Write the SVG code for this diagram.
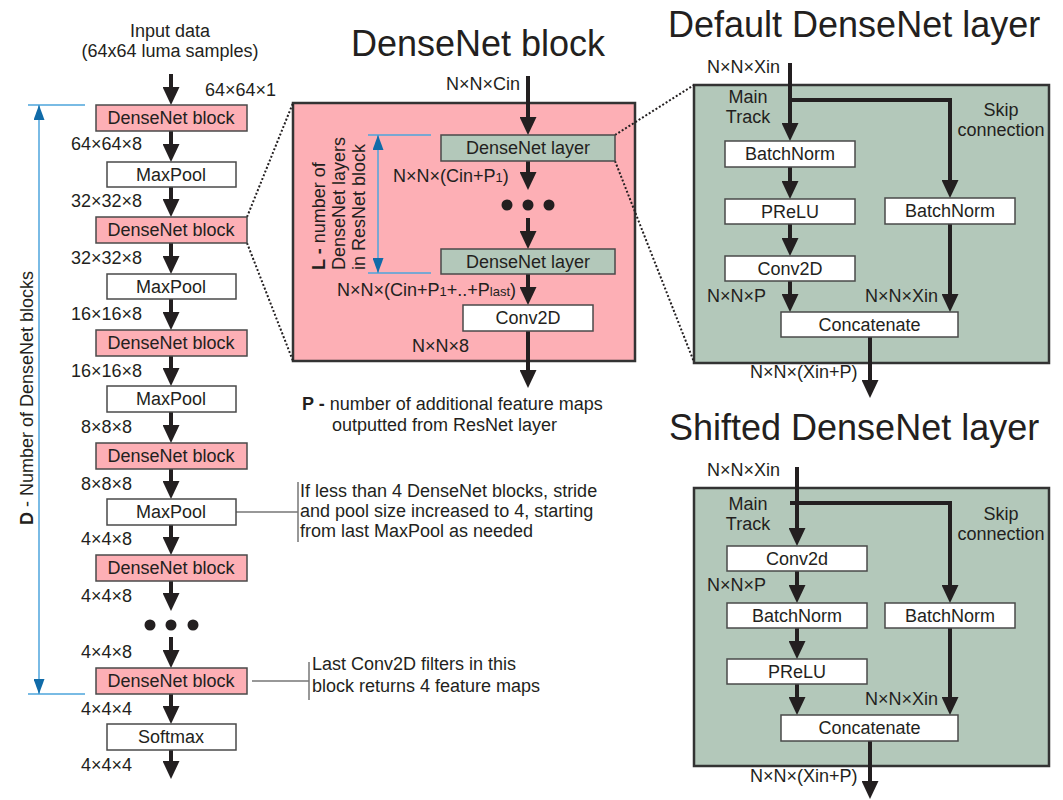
<svg xmlns="http://www.w3.org/2000/svg" width="1063" height="800" viewBox="0 0 1063 800">
<style>
text{font-family:"Liberation Sans",Arial,sans-serif;font-size:18px;fill:#231f20}
.title{font-size:36px}
.mid{text-anchor:middle}
.end{text-anchor:end}
.b{font-weight:bold}
.sub{font-size:13px}
.pink{fill:#fdafb5;stroke:#4a4a4a;stroke-width:1.5}
.green{fill:#b3c8ba;stroke:#4a4a4a;stroke-width:1.5}
.white{fill:#fff;stroke:#4a4a4a;stroke-width:1.5}
.panelP{fill:#fdafb5;stroke:#333;stroke-width:2.5}
.panelG{fill:#b3c8ba;stroke:#333;stroke-width:2.5}
.arr{stroke:#231f20;stroke-width:4;fill:none;marker-end:url(#ah)}
.line{stroke:#231f20;stroke-width:4;fill:none}
.dot{stroke:#231f20;stroke-width:2;stroke-dasharray:2 2;fill:none}
.blue{stroke:#4ea5dc;stroke-width:1.5;fill:none}
.bluea{stroke:#4ea5dc;stroke-width:1.5;fill:none;marker-end:url(#bh);marker-start:url(#bhs)}
.note{stroke:#777;stroke-width:1.5;fill:none}
</style>
<defs>
<marker id="ah" markerUnits="userSpaceOnUse" markerWidth="18" markerHeight="17" refX="8" refY="8.5" orient="auto">
<path d="M0,0 L18,8.5 L0,17 z" fill="#231f20"/>
</marker>
<marker id="bh" markerUnits="userSpaceOnUse" markerWidth="15" markerHeight="11" refX="15" refY="5.5" orient="auto">
<path d="M0,0 L15,5.5 L0,11 z" fill="#106ba8"/>
</marker>
<marker id="bhs" markerUnits="userSpaceOnUse" markerWidth="15" markerHeight="11" refX="0" refY="5.5" orient="auto">
<path d="M15,0 L0,5.5 L15,11 z" fill="#106ba8"/>
</marker>
</defs>

<!-- titles -->
<text class="title mid" x="478" y="56">DenseNet block</text>
<text class="title" x="668" y="37">Default DenseNet layer</text>
<text class="title" x="669" y="440">Shifted DenseNet layer</text>

<!-- panels -->
<rect id="panel-block" class="panelP" x="293" y="103" width="342" height="258"/>
<rect id="panel-default" class="panelG" x="694" y="85" width="355" height="278"/>
<rect id="panel-shifted" class="panelG" x="694" y="488" width="355" height="278"/>

<!-- connectors -->
<g id="connectors">
<path class="arr" d="M171,74 V95"/>
<path class="arr" d="M171,130 V152"/>
<path class="arr" d="M171,187 V207"/>
<path class="arr" d="M171,243 V264"/>
<path class="arr" d="M171,299 V320"/>
<path class="arr" d="M171,356 V376"/>
<path class="arr" d="M171,412 V433"/>
<path class="arr" d="M171,469 V489"/>
<path class="arr" d="M171,525 V545"/>
<path class="arr" d="M171,581 V601"/>
<path class="arr" d="M171,637 V658"/>
<path class="arr" d="M171,694 V714"/>
<path class="arr" d="M171,750 V769"/>

<path class="arr" d="M528,76 V125"/>
<path class="arr" d="M528,161 V180"/>
<path class="arr" d="M528,218 V239"/>
<path class="arr" d="M528,274 V295"/>
<path class="arr" d="M528,331 V378"/>

<path class="arr" d="M790,63 V131"/>
<path class="arr" d="M790,100 H950 V188"/>
<path class="arr" d="M790,167 V189"/>
<path class="arr" d="M790,224 V246"/>
<path class="arr" d="M790,281 V302"/>
<path class="arr" d="M950,224 V302"/>
<path class="arr" d="M870,337 V388"/>

<path class="arr" d="M797,467 V536"/>
<path class="arr" d="M790,503 H950 V593"/>
<path class="arr" d="M797,571 V593"/>
<path class="arr" d="M797,628 V649"/>
<path class="arr" d="M797,684 V705"/>
<path class="arr" d="M950,628 V705"/>
<path class="arr" d="M870,741 V789"/>

<path class="dot" d="M247,217 L293,103"/>
<path class="dot" d="M247,243 L293,361"/>
<path class="dot" d="M615,135 L694,85"/>
<path class="dot" d="M615,161 L694,362"/>

<path class="blue" d="M28,105 H85 M28,694 H85"/>
<path class="bluea" d="M39,105 V694"/>
<path class="blue" d="M368,135 H431 M368,273 H431"/>
<path class="bluea" d="M378,135 V273"/>

<path class="note" d="M236,512 H298 M298,482 V542"/>
<path class="note" d="M252,681 H309 M309,662 V700"/>
</g>

<!-- left column -->
<text class="mid" x="170" y="37">Input data</text>
<text class="mid" x="170" y="57">(64x64 luma samples)</text>
<text x="205" y="96">64×64×1</text>

<g id="block1"><rect class="pink" x="96" y="105" width="151" height="26"/><text class="mid" x="171" y="124">DenseNet block</text></g>
<g id="pool1"><rect class="white" x="107" y="162" width="129" height="25"/><text class="mid" x="171" y="181">MaxPool</text></g>
<g id="block2"><rect class="pink" x="96" y="217" width="151" height="26"/><text class="mid" x="171" y="236">DenseNet block</text></g>
<g id="pool2"><rect class="white" x="107" y="274" width="129" height="25"/><text class="mid" x="171" y="293">MaxPool</text></g>
<g id="block3"><rect class="pink" x="96" y="330" width="151" height="26"/><text class="mid" x="171" y="349">DenseNet block</text></g>
<g id="pool3"><rect class="white" x="107" y="386" width="129" height="26"/><text class="mid" x="171" y="405">MaxPool</text></g>
<g id="block4"><rect class="pink" x="96" y="443" width="151" height="26"/><text class="mid" x="171" y="462">DenseNet block</text></g>
<g id="pool4"><rect class="white" x="107" y="499" width="129" height="26"/><text class="mid" x="171" y="518">MaxPool</text></g>
<g id="block5"><rect class="pink" x="96" y="555" width="151" height="26"/><text class="mid" x="171" y="574">DenseNet block</text></g>
<g id="dots-left"><circle cx="150" cy="625" r="5.5" fill="#231f20"/><circle cx="171" cy="625" r="5.5" fill="#231f20"/><circle cx="193" cy="625" r="5.5" fill="#231f20"/></g>
<g id="block6"><rect class="pink" x="96" y="668" width="151" height="26"/><text class="mid" x="171" y="687">DenseNet block</text></g>
<g id="softmax"><rect class="white" x="107" y="724" width="129" height="26"/><text class="mid" x="171" y="743">Softmax</text></g>

<g id="left-labels">
<text class="mid" x="106.5" y="150">64×64×8</text>
<text class="mid" x="106.5" y="207">32×32×8</text>
<text class="mid" x="106.5" y="264">32×32×8</text>
<text class="mid" x="106.5" y="320">16×16×8</text>
<text class="mid" x="106.5" y="377">16×16×8</text>
<text class="mid" x="106.5" y="433">8×8×8</text>
<text class="mid" x="106.5" y="490">8×8×8</text>
<text class="mid" x="106.5" y="545">4×4×8</text>
<text class="mid" x="106.5" y="602">4×4×8</text>
<text class="mid" x="106.5" y="658">4×4×8</text>
<text class="mid" x="106.5" y="715">4×4×4</text>
<text class="mid" x="106.5" y="771">4×4×4</text>
</g>
<text class="mid" transform="translate(33,398) rotate(-90)"><tspan class="b">D</tspan> - Number of DenseNet blocks</text>

<g id="note1">
<text x="300" y="497">If less than 4 DenseNet blocks, stride</text>
<text x="300" y="517">and pool size increased to 4, starting</text>
<text x="300" y="537">from last MaxPool as needed</text>
</g>
<g id="note2">
<text x="312" y="670">Last Conv2D filters in this</text>
<text x="312" y="692">block returns 4 feature maps</text>
</g>

<!-- middle block -->
<text class="end" x="520" y="90">N×N×Cin</text>
<g id="layer1"><rect class="green" x="441" y="135" width="174" height="26"/><text class="mid" x="528" y="154">DenseNet layer</text></g>
<text x="393" y="182">N×N×(Cin+P<tspan class="sub">1</tspan>)</text>
<g id="dots-mid"><circle cx="507" cy="205" r="5.5" fill="#231f20"/><circle cx="528" cy="205" r="5.5" fill="#231f20"/><circle cx="549" cy="205" r="5.5" fill="#231f20"/></g>
<g id="layer2"><rect class="green" x="441" y="249" width="174" height="25"/><text class="mid" x="528" y="268">DenseNet layer</text></g>
<text x="337" y="296">N×N×(Cin+P<tspan class="sub">1</tspan>+..+P<tspan class="sub">last</tspan>)</text>
<g id="conv-mid"><rect class="white" x="463" y="305" width="130" height="26"/><text class="mid" x="528" y="324">Conv2D</text></g>
<text x="412" y="352">N×N×8</text>
<text transform="translate(325,270) rotate(-90)"><tspan class="b">L -</tspan> number of</text>
<text transform="translate(345,270) rotate(-90)">DenseNet layers</text>
<text transform="translate(365,270) rotate(-90)">in ResNet block</text>
<text x="302" y="410"><tspan class="b">P -</tspan> number of additional feature maps</text>
<text x="332" y="431">outputted from ResNet layer</text>

<!-- default layer -->
<text x="707" y="73">N×N×Xin</text>
<text class="mid" x="748" y="103">Main</text>
<text class="mid" x="748" y="123">Track</text>
<text class="mid" x="1001" y="116">Skip</text>
<text class="mid" x="1001" y="136">connection</text>
<g id="d-bn1"><rect class="white" x="725" y="141" width="130" height="26"/><text class="mid" x="790" y="160">BatchNorm</text></g>
<g id="d-prelu"><rect class="white" x="725" y="199" width="130" height="25"/><text class="mid" x="790" y="218">PReLU</text></g>
<g id="d-conv"><rect class="white" x="725" y="256" width="130" height="25"/><text class="mid" x="790" y="275">Conv2D</text></g>
<g id="d-bn2"><rect class="white" x="885" y="198" width="130" height="26"/><text class="mid" x="950" y="217">BatchNorm</text></g>
<g id="d-concat"><rect class="white" x="781" y="312" width="177" height="25"/><text class="mid" x="869.5" y="331">Concatenate</text></g>
<text x="707" y="302">N×N×P</text>
<text x="865" y="302">N×N×Xin</text>
<text x="750" y="378">N×N×(Xin+P)</text>

<!-- shifted layer -->
<text x="707" y="476">N×N×Xin</text>
<text class="mid" x="748" y="510">Main</text>
<text class="mid" x="748" y="530">Track</text>
<text class="mid" x="1001" y="520">Skip</text>
<text class="mid" x="1001" y="540">connection</text>
<g id="s-conv"><rect class="white" x="727" y="546" width="140" height="25"/><text class="mid" x="797" y="565">Conv2d</text></g>
<text x="707" y="591">N×N×P</text>
<g id="s-bn1"><rect class="white" x="727" y="603" width="140" height="25"/><text class="mid" x="797" y="622">BatchNorm</text></g>
<g id="s-prelu"><rect class="white" x="727" y="659" width="140" height="25"/><text class="mid" x="797" y="678">PReLU</text></g>
<g id="s-bn2"><rect class="white" x="885" y="603" width="130" height="25"/><text class="mid" x="950" y="622">BatchNorm</text></g>
<g id="s-concat"><rect class="white" x="781" y="715" width="177" height="26"/><text class="mid" x="869.5" y="734">Concatenate</text></g>
<text x="865" y="705">N×N×Xin</text>
<text x="750" y="782">N×N×(Xin+P)</text>
</svg>
